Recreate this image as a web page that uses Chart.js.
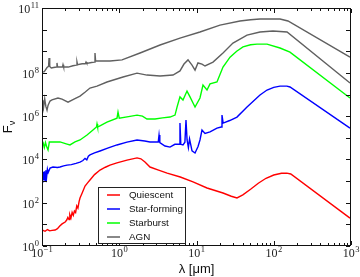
<!DOCTYPE html>
<html><head><meta charset="utf-8">
<script src="https://cdn.jsdelivr.net/npm/chart.js@4.4.1/dist/chart.umd.min.js"></script>
<style>html,body{margin:0;padding:0;background:#fff}canvas{display:block}</style>
</head><body>
<canvas id="c" width="360" height="277"></canvas>
<script>
// Values, stored as log10(λ / μm) and log10(Fν)
const quiescentLogLambda = [-1,-0.96,-0.93,-0.90,-0.87,-0.83,-0.80,-0.77,-0.74,-0.70,-0.68,-0.665,-0.65,-0.64,-0.625,-0.61,-0.595,-0.58,-0.565,-0.55,-0.535,-0.52,-0.508,-0.48,-0.443,-0.41,-0.379,-0.32,-0.249,-0.18,-0.12,-0.03,0.10,0.23,0.28,0.333,0.398,0.50,0.62,0.79,0.955,1.136,1.343,1.45,1.524,1.60,1.70,1.80,1.90,2.00,2.10,2.17,2.22,2.987];
const quiescentLogFlux   = [0.74,0.68,0.76,0.70,0.72,0.74,0.80,0.92,1.02,1.11,1.20,1.32,1.22,1.45,1.30,1.55,1.42,1.62,1.55,1.85,1.75,2.05,2.22,2.45,2.77,2.92,3.05,3.30,3.51,3.64,3.74,3.84,3.97,4.07,4.03,3.88,3.65,3.52,3.37,3.19,2.96,2.68,2.45,2.30,2.22,2.36,2.62,2.90,3.13,3.28,3.36,3.37,3.33,1.29];

const starFormingLogLambda = [-1,-0.99,-0.98,-0.97,-0.96,-0.95,-0.94,-0.93,-0.92,-0.896,-0.858,-0.80,-0.767,-0.72,-0.676,-0.62,-0.56,-0.508,-0.47,-0.443,-0.42,-0.40,-0.379,-0.32,-0.249,-0.15,-0.03,0.10,0.23,0.33,0.398,0.505,0.515,0.525,0.592,0.657,0.72,0.775,0.786,0.797,0.825,0.85,0.864,0.878,0.895,0.91,0.942,0.981,1.02,1.045,1.071,1.11,1.175,1.265,1.32,1.33,1.345,1.43,1.524,1.654,1.822,1.913,2.00,2.081,2.17,2.21,2.987];
const starFormingLogFlux   = [2.96,3.42,3.05,3.45,3.00,3.50,3.20,3.55,3.40,3.60,3.65,3.63,3.65,3.70,3.74,3.76,3.82,3.88,3.95,4.05,3.98,4.15,4.21,4.30,4.39,4.52,4.67,4.80,4.90,4.85,4.81,4.81,5.13,4.78,4.62,4.57,4.70,4.70,5.68,4.70,4.67,4.80,5.82,4.90,4.55,4.95,4.40,4.30,4.60,4.90,5.36,5.20,5.27,5.45,5.50,6.05,5.68,5.80,5.96,6.42,6.98,7.21,7.33,7.39,7.39,7.35,5.45];

const starburstLogLambda = [-1,-0.985,-0.97,-0.955,-0.94,-0.922,-0.905,-0.858,-0.767,-0.676,-0.638,-0.573,-0.508,-0.417,-0.340,-0.295,-0.288,-0.280,-0.159,-0.029,-0.016,0,0.12,0.23,0.30,0.359,0.463,0.56,0.657,0.722,0.748,0.786,0.825,0.877,0.916,0.955,0.981,1.045,1.084,1.136,1.175,1.265,1.343,1.434,1.52,1.602,1.70,1.783,1.913,2.081,2.210,2.987];
const starburstLogFlux   = [4.67,4.76,4.55,4.78,4.60,4.44,4.81,4.81,4.81,4.71,4.67,4.81,4.90,5.13,5.36,5.50,5.64,5.50,5.73,5.91,6.19,5.91,5.98,6.05,6.00,5.87,5.87,5.92,5.96,6.05,6.42,6.89,6.75,7.16,6.89,6.61,6.42,6.84,7.44,7.21,7.49,7.58,8.27,8.73,9.00,9.20,9.30,9.33,9.33,9.15,8.96,6.84];

const agnHighLogLambda = [-1,-0.97,-0.935,-0.915,-0.909,-0.900,-0.88,-0.85,-0.812,-0.806,-0.798,-0.76,-0.735,-0.728,-0.72,-0.66,-0.60,-0.555,-0.547,-0.540,-0.48,-0.44,-0.43,-0.42,-0.36,-0.322,-0.314,-0.306,-0.25,-0.12,0.036,0.269,0.528,0.786,1.045,1.304,1.563,1.70,1.822,2.081,2.184,2.987];
const agnHighLogFlux   = [8.04,8.06,8.25,8.30,8.69,8.30,8.23,8.25,8.27,8.46,8.27,8.27,8.27,8.38,8.27,8.27,8.33,8.36,8.50,8.38,8.42,8.42,8.50,8.44,8.48,8.50,8.92,8.55,8.55,8.55,8.60,8.92,9.29,9.61,9.89,10.21,10.40,10.46,10.49,10.49,10.40,8.73];

const agnLowLogLambda = [-1,-0.99,-0.98,-0.965,-0.95,-0.935,-0.922,-0.896,-0.871,-0.793,-0.741,-0.663,-0.58,-0.508,-0.44,-0.379,-0.288,-0.159,0.049,0.230,0.359,0.528,0.696,0.786,0.838,0.890,0.942,0.981,1.019,1.071,1.110,1.214,1.343,1.472,1.654,1.822,1.990,2.172,2.987];
const agnLowLogFlux   = [6.28,6.75,6.40,6.80,6.45,6.28,6.50,6.70,6.75,6.84,6.79,6.65,6.80,6.93,7.12,7.30,7.39,7.58,7.81,7.99,7.90,7.86,7.90,8.09,8.41,8.60,8.36,8.13,8.46,8.41,8.32,8.50,8.92,9.38,9.75,9.89,9.94,9.89,7.53];

const seriesLabels = ['Quiescent','Star-forming','Starburst','AGN'];
const seriesColors = ['#ff0000','#0000ff','#00ff00','#606060'];

const xTickExponents = [-1,0,1,2,3];
const yTickExponents = [0,2,4,6,8,11];
const xAxisTitle = 'λ [μm]';
const yAxisTitle = 'F';
const yAxisTitleSub = 'ν';

function toPoints(logL, logF){ return logL.map((l,i)=>({x:Math.pow(10,l), y:Math.pow(10,logF[i])})); }

const datasets = [
  {label:seriesLabels[0], data:toPoints(quiescentLogLambda, quiescentLogFlux), borderColor:seriesColors[0]},
  {label:seriesLabels[1], data:toPoints(starFormingLogLambda, starFormingLogFlux), borderColor:seriesColors[1]},
  {label:seriesLabels[2], data:toPoints(starburstLogLambda, starburstLogFlux), borderColor:seriesColors[2]},
  {label:seriesLabels[3], data:toPoints(agnHighLogLambda, agnHighLogFlux), borderColor:seriesColors[3]},
  {label:seriesLabels[3], data:toPoints(agnLowLogLambda, agnLowLogFlux), borderColor:seriesColors[3], hideInLegend:true}
];

const serif = '"Liberation Serif", "DejaVu Serif", serif';
const sans = '"Liberation Sans", Arial, sans-serif';

function expText(n){ return n < 0 ? '\u2212' + Math.abs(n) : String(n); }

function drawPow(ctx, n, x, y, align){
  ctx.font = '12px ' + serif;
  const wb = ctx.measureText('10').width;
  ctx.font = '8.5px ' + serif;
  const we = ctx.measureText(expText(n)).width;
  const total = wb + we + 0.5;
  let sx = align === 'center' ? x - total/2 : x - total;
  ctx.textAlign = 'left'; ctx.textBaseline = 'alphabetic';
  ctx.font = '12px ' + serif;
  ctx.fillText('10', sx, y);
  ctx.font = '8.5px ' + serif;
  ctx.fillText(expText(n), sx + wb + 0.5, y - 5);
}

const framePlugin = {
  id:'frame',
  afterDraw(chart){
    const ctx = chart.ctx;
    const {left,right,top,bottom} = chart.chartArea;
    const xs = chart.scales.x, ys = chart.scales.y;
    ctx.save();
    ctx.strokeStyle = '#111'; ctx.lineWidth = 1;
    ctx.strokeRect(left+0.5, top+0.5, right-left-1, bottom-top-1);
    ctx.beginPath();
    for (let n=-1; n<=3; n++){
      for (let k=1; k<=9; k++){
        if (n===3 && k>1) break;
        const v = k*Math.pow(10,n);
        const px = Math.round(xs.getPixelForValue(v)) + 0.5;
        const len = k===1 ? 4 : 2;
        ctx.moveTo(px, bottom-1); ctx.lineTo(px, bottom-1-len);
        ctx.moveTo(px, top+1); ctx.lineTo(px, top+1+len);
      }
    }
    for (let n=0; n<=11; n++){
      const py = Math.round(ys.getPixelForValue(Math.pow(10,n))) + 0.5;
      ctx.moveTo(left+1, py); ctx.lineTo(left+5, py);
      ctx.moveTo(right-1, py); ctx.lineTo(right-5, py);
    }
    ctx.stroke();
    ctx.fillStyle = '#222';
    xTickExponents.forEach(n=>{
      const px = xs.getPixelForValue(Math.pow(10,n));
      drawPow(ctx, n, px, 257, 'center');
    });
    yTickExponents.forEach(n=>{
      const py = ys.getPixelForValue(Math.pow(10,n));
      drawPow(ctx, n, left-3, py+5, 'right');
    });
    ctx.fillStyle = '#111';
    ctx.font = '13px ' + sans;
    ctx.textAlign = 'center'; ctx.textBaseline = 'middle';
    ctx.fillText(xAxisTitle, (left+right)/2, 269);
    ctx.save();
    ctx.translate(12, (top+bottom)/2);
    ctx.rotate(-Math.PI/2);
    ctx.font = '13px ' + sans;
    const wF = ctx.measureText(yAxisTitle).width;
    ctx.font = '9px ' + sans;
    const wN = ctx.measureText(yAxisTitleSub).width;
    const st = -(wF + wN)/2;
    ctx.textAlign = 'left'; ctx.textBaseline = 'alphabetic';
    ctx.font = '13px ' + sans;
    ctx.fillText(yAxisTitle, st, 0);
    ctx.font = '9px ' + sans;
    ctx.fillText(yAxisTitleSub, st + wF, 3);
    ctx.restore();
    const lx = 98.5, ly = 187.5, lw = 87, lh = 56;
    ctx.fillStyle = '#fff';
    ctx.fillRect(lx, ly, lw, lh);
    ctx.strokeStyle = '#222'; ctx.lineWidth = 1;
    ctx.strokeRect(lx, ly, lw, lh);
    const items = chart.data.datasets.filter(d=>!d.hideInLegend);
    ctx.font = '9.8px ' + sans;
    ctx.textAlign = 'left'; ctx.textBaseline = 'middle';
    items.forEach((d,i)=>{
      const ry = 195 + i*14;
      ctx.strokeStyle = d.borderColor; ctx.lineWidth = 1.5;
      ctx.beginPath(); ctx.moveTo(107, ry); ctx.lineTo(120, ry); ctx.stroke();
      ctx.fillStyle = '#111';
      ctx.fillText(d.label, 129, ry+0.5);
    });
    ctx.restore();
  }
};

new Chart(document.getElementById('c'), {
  type:'line',
  data:{datasets},
  options:{
    responsive:false, animation:false, devicePixelRatio:1,
    layout:{padding:{left:0, top:8, right:9, bottom:0}},
    plugins:{legend:{display:false}, tooltip:{enabled:false}},
    elements:{point:{radius:0}, line:{tension:0, borderWidth:1.4}},
    scales:{
      x:{type:'logarithmic', min:0.1, max:1000, grid:{display:false}, border:{display:false}, ticks:{display:false},
         afterFit(s){ s.height = 31; }},
      y:{type:'logarithmic', min:1, max:1e11, grid:{display:false}, border:{display:false}, ticks:{display:false},
         afterFit(s){ s.width = 42; }}
    }
  },
  plugins:[framePlugin]
});
</script>
</body></html>
